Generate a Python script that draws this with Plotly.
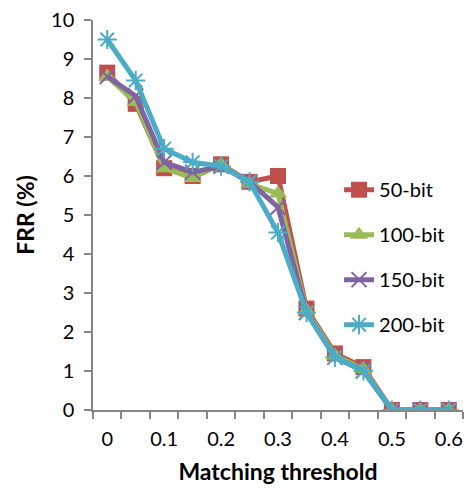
import plotly.graph_objects as go

thresholds = [0, 0.05, 0.1, 0.15, 0.2, 0.25, 0.3, 0.35, 0.4, 0.45, 0.5, 0.55, 0.6]
frr_50 = [8.65, 7.85, 6.2, 6.0, 6.3, 5.85, 6.0, 2.6, 1.45, 1.1, 0, 0, 0]
frr_100 = [8.55, 7.9, 6.2, 5.95, 6.3, 5.8, 5.55, 2.55, 1.4, 1.05, 0, 0, 0]
frr_150 = [8.55, 8.05, 6.35, 6.1, 6.25, 5.85, 5.2, 2.5, 1.35, 1.0, 0, 0, 0]
frr_200 = [9.5, 8.45, 6.7, 6.35, 6.25, 5.85, 4.55, 2.5, 1.35, 1.0, 0, 0, 0]
series_names = ["50-bit", "100-bit", "150-bit", "200-bit"]
x_tick_vals = [0, 0.1, 0.2, 0.3, 0.4, 0.5, 0.6]
x_tick_text = ["0", "0.1", "0.2", "0.3", "0.4", "0.5", "0.6"]
y_tick_vals = list(range(0, 11))

colors = ["#C0504D", "#9BBB59", "#8064A2", "#4BACC6"]
symbols = ["square", "triangle-up", "x-thin-open", "asterisk-open"]
sizes = [16, 16, 15, 16]
font = "Lato, 'Open Sans', sans-serif"

fig = go.Figure()
for i, (name, ys) in enumerate(zip(series_names, [frr_50, frr_100, frr_150, frr_200])):
    marker = dict(symbol=symbols[i], size=sizes[i], color=colors[i])
    if "open" in symbols[i]:
        marker["line"] = dict(color=colors[i], width=2)
    fig.add_trace(go.Scatter(
        x=thresholds, y=ys, name=name, mode="lines+markers",
        line=dict(color=colors[i], width=5),
        marker=marker, legendgroup=name,
    ))

minor_vals = [round(-0.025 + 0.05 * k, 4) for k in range(14)]

fig.update_layout(
    width=470, height=493,
    margin=dict(l=93, r=7, t=17, b=83),
    paper_bgcolor="white", plot_bgcolor="white",
    font=dict(family=font, size=20, color="black"),
    showlegend=True,
    legend=dict(x=0.665, y=0.615, xanchor="left", yanchor="top",
                bgcolor="rgba(255,255,255,0)", tracegroupgap=16,
                traceorder="grouped", font=dict(size=20)),
    xaxis=dict(
        range=[-0.025, 0.625], tickmode="array", tickvals=x_tick_vals, ticktext=x_tick_text,
        ticks="outside", ticklen=7, tickcolor="rgba(0,0,0,0)",
        showline=True, linecolor="#868686", linewidth=1.5, showgrid=False, zeroline=False,
        ticklabelstandoff=3,
        minor=dict(tickmode="array", tickvals=minor_vals, ticks="outside", ticklen=7,
                   tickcolor="#868686", tickwidth=1.5, showgrid=False),
        title=dict(text="<b>Matching threshold</b>", standoff=15, font=dict(size=23)),
    ),
    yaxis=dict(
        range=[0, 10], tickmode="array", tickvals=y_tick_vals,
        ticks="outside", ticklen=7, tickcolor="#868686", tickwidth=1.5,
        showline=True, linecolor="#868686", linewidth=1.5, showgrid=False, zeroline=False,
        ticklabelstandoff=6,
        title=dict(text="<b>FRR (%)</b>", standoff=10, font=dict(size=23)),
    ),
)

fig.write_html("out.html")
